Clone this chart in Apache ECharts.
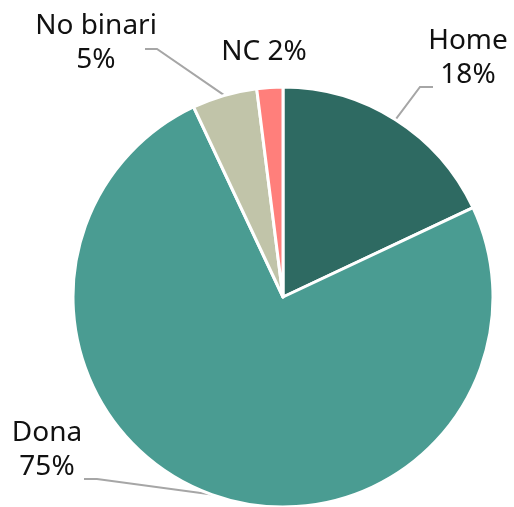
<!DOCTYPE html>
<html>
<head>
<meta charset="utf-8">
<style>
  html, body { margin: 0; padding: 0; background: #fff; }
  #chart { width: 514px; height: 507px; }
</style>
<script src="https://cdn.jsdelivr.net/npm/echarts@6/dist/echarts.min.js"></script>
</head>
<body>
<div id="chart"></div>
<script>
var categories = ['Home', 'Dona', 'No binari', 'NC'];
var values = [18, 75, 5, 2];
var colors = ['#2e6a62', '#4a9c92', '#c1c4a9', '#ff7f7b'];

// label placement (text block centre + elbow of the leader line)
var labelPos = [
    {x: 468, y: 58, elbow: [[420, 87], [433, 87]]},
    {x: 47, y: 450, elbow: [[97, 479], [84, 479]]},
    {x: 96, y: 43, elbow: [[157, 49], [145, 49]]},
    {x: 264, y: 52, elbow: null}
];

var data = [];
for (var i = 0; i < categories.length; i++) {
    var item = {name: categories[i], value: values[i], itemStyle: {color: colors[i]}};
    if (!labelPos[i].elbow) item.labelLine = {show: false};
    data.push(item);
}

var chart = echarts.init(document.getElementById('chart'));
var option = {
    animation: false,
    series: [{
        type: 'pie',
        center: [283, 297],
        radius: [0, 210],
        startAngle: 90,
        clockwise: true,
        data: data,
        itemStyle: {borderColor: '#fff', borderWidth: 3},
        label: {
            show: true,
            position: 'outside',
            overflow: 'none',
            fontFamily: 'Noto Sans',
            fontSize: 28,
            lineHeight: 34,
            color: '#111',
            formatter: function (p) {
                if (p.dataIndex === 3) return p.name + ' ' + p.value + '%';
                return p.name + '\n' + p.value + '%';
            }
        },
        labelLine: {
            show: true,
            lineStyle: {color: '#a6a6a6', width: 2}
        },
        labelLayout: function (params) {
            var lp = labelPos[params.dataIndex];
            var res = {x: lp.x, y: lp.y, align: 'center', verticalAlign: 'middle'};
            if (lp.elbow && params.labelLinePoints) {
                res.labelLinePoints = [params.labelLinePoints[0], lp.elbow[0], lp.elbow[1]];
            }
            return res;
        }
    }]
};
chart.setOption(option);
</script>
</body>
</html>
